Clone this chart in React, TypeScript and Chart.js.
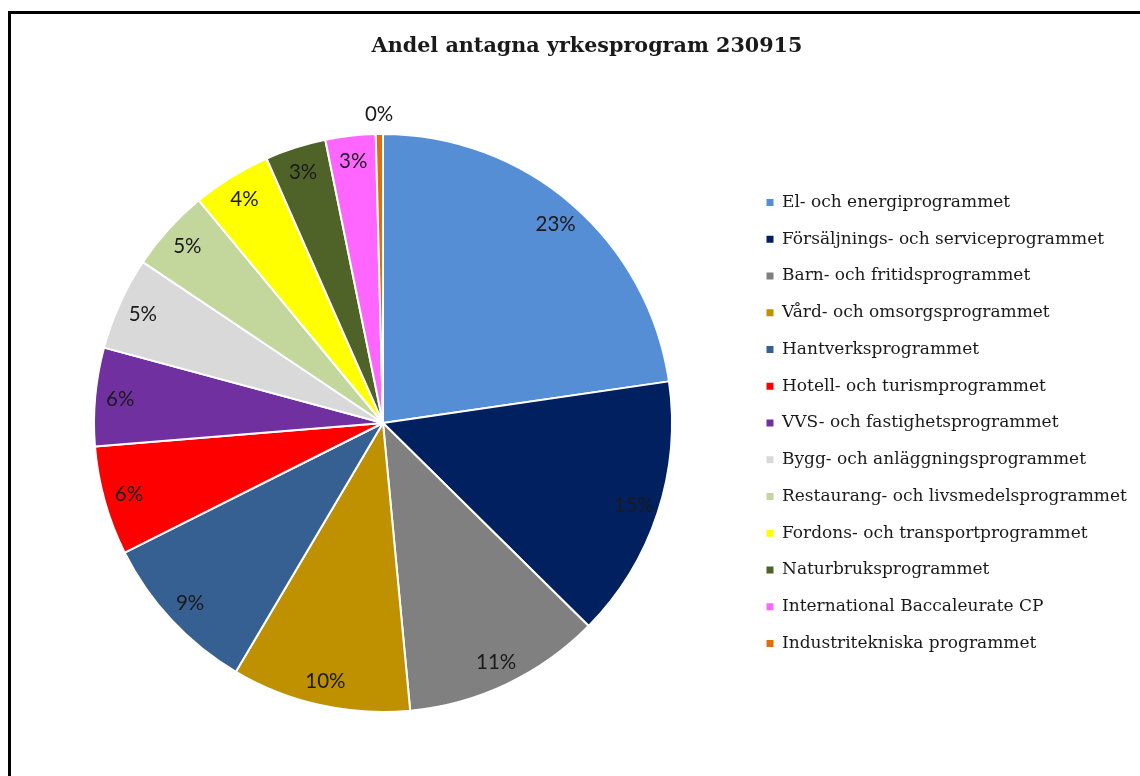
import React, { useEffect, useRef } from 'react';
import { Chart, registerables } from 'chart.js';

Chart.register(...registerables);

const chartTitle = 'Andel antagna yrkesprogram 230915';

const categories = [
  'El- och energiprogrammet',
  'Försäljnings- och serviceprogrammet',
  'Barn- och fritidsprogrammet',
  'Vård- och omsorgsprogrammet',
  'Hantverksprogrammet',
  'Hotell- och turismprogrammet',
  'VVS- och fastighetsprogrammet',
  'Bygg- och anläggningsprogrammet',
  'Restaurang- och livsmedelsprogrammet',
  'Fordons- och transportprogrammet',
  'Naturbruksprogrammet',
  'International Baccaleurate CP',
  'Industritekniska programmet',
];

// share of admitted students, percent
const shares = [22.7, 14.7, 11.1, 10.0, 9.1, 6.1, 5.5, 5.2, 4.6, 4.4, 3.4, 2.8, 0.4];

const sliceColors = [
  '#558ED5',
  '#002060',
  '#808080',
  '#BF9000',
  '#376092',
  '#FF0000',
  '#7030A0',
  '#D9D9D9',
  '#C3D69B',
  '#FFFF00',
  '#4F6228',
  '#FF66FF',
  '#E46C0A',
];

const SERIF = '"DejaVu Serif", "Liberation Serif", serif';
const LABEL_FONT = 'Lato, "Open Sans", sans-serif';
const TEXT_COLOR = '#1a1a1a';

export default function App() {
  const ref = useRef<HTMLCanvasElement>(null);

  useEffect(() => {
    const canvas = ref.current;
    if (!canvas) return;

    const W = 1140;
    const H = 776;
    const pieCx = 383;
    const areaTop = 133;
    const areaBottom = 713;
    const legendBoxX = 766.5;
    const rowStep = 36.75;
    const legendFs = 17;
    const legendPad = rowStep - legendFs;
    const boxW = 7;

    // measure widest legend label to place the legend precisely
    const mc = document.createElement('canvas').getContext('2d')!;
    mc.font = `${legendFs}px ${SERIF}`;
    const maxText = Math.max(...categories.map((c) => mc.measureText(c).width));
    const legendWidth = legendPad + boxW + legendFs / 2 + maxText + 10;
    const chartRight = legendBoxX - legendPad;
    const padLeft = 2 * pieCx - chartRight;
    const padRight = W - chartRight - legendWidth;

    const titlePlugin = {
      id: 'sheetTitle',
      afterDraw(chart: any) {
        const ctx = chart.ctx;
        ctx.save();
        ctx.font = `bold 20.7px ${SERIF}`;
        ctx.fillStyle = TEXT_COLOR;
        ctx.textAlign = 'center';
        ctx.textBaseline = 'alphabetic';
        ctx.fillText(chartTitle, 587, 52);
        ctx.restore();
      },
    };

    const sliceLabels = {
      id: 'sliceLabels',
      afterDatasetsDraw(chart: any) {
        const ctx = chart.ctx;
        const meta = chart.getDatasetMeta(0);
        const data = chart.data.datasets[0].data as number[];
        const total = data.reduce((a, b) => a + b, 0);
        ctx.save();
        ctx.font = `20.5px ${LABEL_FONT}`;
        ctx.fillStyle = TEXT_COLOR;
        ctx.textAlign = 'center';
        ctx.textBaseline = 'middle';
        meta.data.forEach((arc: any, i: number) => {
          const { x, y, startAngle, endAngle, outerRadius } = arc.getProps(
            ['x', 'y', 'startAngle', 'endAngle', 'outerRadius'],
            true
          );
          const pct = (data[i] / total) * 100;
          const mid = (startAngle + endAngle) / 2;
          const r = pct < 1 ? outerRadius + 20 : outerRadius * 0.913;
          ctx.fillText(Math.round(pct) + '%', x + Math.cos(mid) * r, y + Math.sin(mid) * r + 0.5);
        });
        ctx.restore();
      },
    };

    const chart = new Chart(canvas, {
      type: 'pie',
      data: {
        labels: categories,
        datasets: [
          {
            data: shares,
            backgroundColor: sliceColors,
            borderColor: '#ffffff',
            borderWidth: 2,
          },
        ],
      },
      options: {
        responsive: false,
        animation: false,
        layout: {
          padding: { left: padLeft, right: padRight, top: areaTop, bottom: H - areaBottom },
        },
        plugins: {
          title: { display: false },
          tooltip: { enabled: false },
          legend: {
            display: true,
            position: 'right',
            align: 'center',
            labels: {
              boxWidth: boxW,
              boxHeight: 7,
              padding: legendPad,
              color: TEXT_COLOR,
              font: { family: SERIF, size: legendFs },
              generateLabels(c: any) {
                const base = (Chart as any).overrides.pie.plugins.legend.labels.generateLabels(c);
                return base.map((it: any) => ({ ...it, lineWidth: 0, strokeStyle: 'rgba(0,0,0,0)' }));
              },
            },
          },
        },
      },
      plugins: [titlePlugin, sliceLabels],
    });

    return () => chart.destroy();
  }, []);

  return (
    <div>
      <div
        style={{
          position: 'fixed',
          left: 8,
          top: 11,
          width: 1140 - 8,
          height: 776 - 11,
          boxSizing: 'border-box',
          borderTop: '3px solid #000',
          borderLeft: '3px solid #000',
          pointerEvents: 'none',
        }}
      />
      <canvas
        ref={ref}
        width={1140}
        height={776}
        style={{ position: 'fixed', left: 0, top: 0, width: 1140, height: 776 }}
      />
    </div>
  );
}
